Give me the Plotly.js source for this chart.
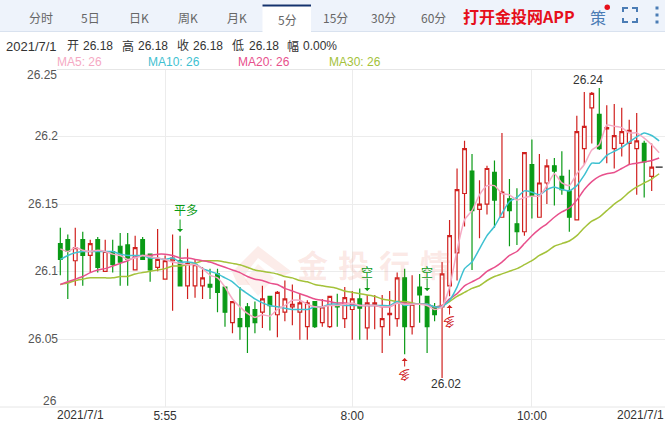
<!DOCTYPE html>
<html><head><meta charset="utf-8">
<script src="https://cdn.plot.ly/plotly-3.0.1.min.js"></script>
<style>html,body{margin:0;padding:0;background:#fff;overflow:hidden}#c{width:665px;height:421px}</style>
</head><body><div id="c"></div>
<script>
const opens=[26.122,26.125,26.109,26.125,26.113,26.125,26.101,26.116,26.120,26.121,
26.102,26.125,26.114,26.104,26.095,26.109,26.109,26.090,26.090,26.090,
26.091,26.099,26.089,26.062,26.065,26.074,26.072,26.070,26.082,26.068,
26.070,26.074,26.070,26.059,26.078,26.062,26.059,26.075,26.065,26.072,
26.080,26.058,26.076,26.059,26.068,26.065,26.096,26.059,26.089,26.082,
26.074,26.074,26.090,26.115,26.160,26.177,26.148,26.152,26.176,26.142,
26.156,26.137,26.131,26.182,26.142,26.168,26.181,26.173,26.162,26.140,
26.194,26.225,26.220,26.209,26.194,26.198,26.198,26.194,26.198,26.173];
const highs=[26.134,26.129,26.134,26.131,26.125,26.127,26.125,26.125,26.130,26.130,
26.128,26.127,26.114,26.133,26.113,26.129,26.128,26.118,26.110,26.104,
26.103,26.103,26.089,26.078,26.089,26.077,26.078,26.090,26.082,26.086,
26.094,26.091,26.084,26.079,26.078,26.080,26.082,26.084,26.089,26.086,
26.088,26.083,26.083,26.083,26.086,26.100,26.103,26.098,26.099,26.082,
26.077,26.108,26.140,26.179,26.200,26.190,26.170,26.181,26.185,26.206,
26.171,26.164,26.191,26.201,26.190,26.186,26.187,26.192,26.178,26.219,
26.237,26.237,26.240,26.227,26.228,26.225,26.216,26.221,26.200,26.198];
const lows=[26.098,26.080,26.090,26.090,26.100,26.100,26.101,26.100,26.090,26.090,
26.102,26.110,26.093,26.101,26.095,26.071,26.090,26.080,26.081,26.080,
26.080,26.070,26.059,26.054,26.049,26.039,26.054,26.058,26.056,26.051,
26.063,26.060,26.049,26.049,26.058,26.059,26.058,26.059,26.058,26.049,
26.049,26.049,26.057,26.039,26.052,26.059,26.038,26.053,26.062,26.039,
26.063,26.020,26.082,26.094,26.135,26.102,26.126,26.144,26.134,26.142,
26.120,26.121,26.128,26.141,26.142,26.152,26.151,26.159,26.131,26.140,
26.182,26.198,26.193,26.183,26.179,26.188,26.182,26.159,26.157,26.162];
const closes=[26.110,26.116,26.119,26.113,26.122,26.104,26.116,26.106,26.108,26.110,
26.119,26.110,26.102,26.110,26.109,26.111,26.090,26.107,26.106,26.096,
26.089,26.085,26.070,26.078,26.059,26.059,26.062,26.080,26.075,26.085,
26.080,26.076,26.077,26.077,26.059,26.074,26.082,26.074,26.081,26.080,
26.073,26.077,26.077,26.065,26.069,26.096,26.059,26.076,26.083,26.059,
26.068,26.099,26.128,26.163,26.194,26.147,26.152,26.179,26.155,26.161,
26.147,26.131,26.191,26.158,26.168,26.181,26.177,26.163,26.142,26.207,
26.211,26.236,26.194,26.210,26.204,26.207,26.208,26.200,26.184,26.180];
const lastPrice=26.18;
const ma5=[26.118,26.116,26.119,26.117,26.116,26.117,26.116,26.114,26.113,26.110,
26.111,26.113,26.112,26.111,26.110,26.108,26.107,26.106,26.106,26.103,
26.098,26.096,26.089,26.080,26.074,26.069,26.066,26.068,26.067,26.072,
26.075,26.079,26.079,26.076,26.074,26.074,26.075,26.075,26.076,26.077,
26.075,26.075,26.075,26.074,26.074,26.077,26.076,26.076,26.076,26.075,
26.072,26.074,26.089,26.117,26.140,26.147,26.159,26.166,26.166,26.160,
26.159,26.155,26.157,26.158,26.158,26.166,26.175,26.168,26.166,26.175,
26.182,26.193,26.197,26.212,26.211,26.210,26.206,26.206,26.202,26.197,26.191];
const ma10=[26.110,26.113,26.115,26.116,26.116,26.116,26.116,26.116,26.114,26.113,
26.113,26.113,26.111,26.111,26.110,26.111,26.108,26.108,26.107,26.103,
26.101,26.099,26.096,26.093,26.088,26.084,26.080,26.077,26.075,26.074,
26.073,26.072,26.072,26.072,26.074,26.074,26.076,26.076,26.075,26.075,
26.075,26.075,26.075,26.075,26.075,26.078,26.075,26.076,26.076,26.076,
26.074,26.074,26.079,26.089,26.103,26.108,26.118,26.128,26.135,26.145,
26.154,26.157,26.162,26.161,26.159,26.163,26.165,26.163,26.162,26.166,
26.174,26.183,26.183,26.189,26.192,26.195,26.199,26.203,26.206,26.204,26.200];
const ma20=[26.091,26.093,26.095,26.097,26.100,26.102,26.103,26.105,26.107,26.109,
26.112,26.113,26.113,26.114,26.114,26.113,26.111,26.111,26.110,26.109,
26.108,26.106,26.104,26.102,26.100,26.097,26.095,26.094,26.092,26.091,
26.088,26.086,26.084,26.082,26.080,26.079,26.078,26.077,26.077,26.076,
26.075,26.075,26.075,26.074,26.074,26.077,26.077,26.076,26.076,26.076,
26.074,26.075,26.080,26.084,26.090,26.093,26.096,26.101,26.104,26.108,
26.113,26.116,26.122,26.128,26.133,26.137,26.142,26.146,26.149,26.155,
26.163,26.169,26.173,26.175,26.176,26.179,26.182,26.183,26.184,26.185,26.187];
const ma30=[26.091,26.092,26.094,26.095,26.096,26.096,26.096,26.096,26.097,26.097,
26.099,26.100,26.101,26.102,26.103,26.105,26.105,26.106,26.107,26.109,
26.109,26.109,26.108,26.107,26.106,26.104,26.102,26.101,26.100,26.099,
26.097,26.096,26.094,26.093,26.091,26.090,26.089,26.088,26.086,26.085,
26.084,26.083,26.082,26.080,26.079,26.078,26.078,26.077,26.076,26.076,
26.074,26.075,26.078,26.082,26.085,26.088,26.090,26.094,26.097,26.099,
26.101,26.103,26.106,26.109,26.113,26.116,26.120,26.122,26.124,26.128,
26.134,26.139,26.142,26.147,26.152,26.156,26.161,26.165,26.168,26.171,26.175];
const yTickVals=[26.2036,26.152,26.1012,26.0496];
const yTickText=['26.2','26.15','26.1','26.05'];
const yTop=26.2541, yBottom=25.9984;
const xTickVals=[14,39,63];
const xTickText=['5:55','8:00','10:00'];
const dateLabel='2021/7/1';
const tabs=['分时','5日','日K','周K','月K','5分','15分','30分','60分'];
const tabCenters=[41,90,139,188,237,287,335,383,433];
const maLegend=['MA5: 26','MA10: 26','MA20: 26','MA30: 26'];
const maColors=['#f5a9c3','#3fc1d1','#e8508c','#a4c23a'];
const RED='#d0201e', GREEN='#0a9a16';
const W=665,H=421;
const FONT='"Liberation Sans","Noto Sans CJK SC",sans-serif';
const CJK='"Noto Sans CJK SC",sans-serif';
const px=x=>x/W, py=y=>1-y/H;

const idx=opens.map((_,i)=>i);
const idxAll=ma5.map((_,i)=>i);
const traces=[{type:'candlestick',x:idx,open:opens,high:highs,low:lows,close:closes,
  increasing:{line:{color:RED,width:1.2},fillcolor:'#ffffff'},
  decreasing:{line:{color:GREEN,width:1.2},fillcolor:GREEN},
  whiskerwidth:0,hoverinfo:'skip',showlegend:false}];
[ma30,ma20,ma10,ma5].forEach((m,k)=>{traces.push({type:'scatter',mode:'lines',x:idxAll,y:m,
  line:{color:maColors[3-k],width:1.5,shape:'spline',smoothing:0.5},hoverinfo:'skip',showlegend:false});});
traces.push({type:'scatter',mode:'markers',x:[80],y:[lastPrice],hoverinfo:'skip',showlegend:false,
  marker:{symbol:'line-ew',size:5,line:{color:'#222',width:1.2}}});

const ann=[];
function note(x,y,text,o={}){
  const dx=o.xanchor==='left'?-2:(o.xanchor==='right'?2:0);
  ann.push(Object.assign({xref:'paper',yref:'paper',x:px(x+dx),y:py(y),text:text,showarrow:false,
  xanchor:'center',yanchor:'middle',font:{family:FONT,size:12,color:'#333'}},o));}
tabs.forEach((t,i)=>note(tabCenters[i],i===5?19:17,t,{font:{family:CJK,size:12,color:'#666'}}));
note(463,16,'打开金投网APP',{xanchor:'left',font:{family:CJK,size:16,color:'#e60f1a',weight:700}});
note(598,17,'策',{font:{family:CJK,size:16,color:'#4a7cb5'}});
[['2021/7/1',6],['开',67],['26.18',83],['高',122],['26.18',138],['收',177],['26.18',193],['低',232],['26.18',249],['幅',287],['0.00%',303]]
 .forEach(p=>note(p[1],46,p[0],{xanchor:'left',font:{family:FONT,size:/^[\u4e00-\u9fff]/.test(p[0])?12:(p[0].includes('/')?13:12),color:'#333'}}));
[57,148,238,329].forEach((x,i)=>note(x,62,maLegend[i],{xanchor:'left',font:{family:FONT,size:12,color:maColors[i]}}));
note(57,75,'26.25',{xanchor:'right',font:{family:FONT,size:12,color:'#555'}});
note(57,401,'26',{xanchor:'right',font:{family:FONT,size:12,color:'#555'}});
note(57,414.5,dateLabel,{xanchor:'left'});
note(664,414.5,dateLabel,{xanchor:'right'});
['金','投','行','情'].forEach((c,i)=>note(312+41*i,263,c,{font:{family:CJK,size:31,weight:700,color:'rgba(232,120,100,0.16)'}}));
ann.push({xref:'x',yref:'y',x:72,y:26.24,text:'26.24',showarrow:false,xshift:-11,yshift:8,font:{family:FONT,size:12,color:'#333'}});
ann.push({xref:'x',yref:'y',x:51,y:26.02,text:'26.02',showarrow:false,xshift:4,yshift:-6,font:{family:FONT,size:12,color:'#333'}});
function sig(i,v,text,up,color,dx){
  ann.push({xref:'x',yref:'y',x:i,y:v,text:text,showarrow:false,xshift:dx,textangle:up?180:0,font:{family:CJK,size:12,color:color}});
}
function arrow(i,v,up,color,len){
  ann.push({xref:'x',yref:'y',x:i,y:v,ax:0,ay:up?len:-len,showarrow:true,arrowhead:1,arrowsize:1,arrowwidth:1,arrowcolor:color,text:'',axref:'pixel',ayref:'pixel'});
}
sig(16,26.1475,'平多',false,GREEN,6);
arrow(16,26.1308,false,GREEN,14);
sig(41,26.1012,'空',false,GREEN,0);
arrow(41,26.0860,false,GREEN,14);
sig(49,26.1012,'空',false,GREEN,0);
arrow(49,26.0860,false,GREEN,14);
sig(46,26.0215,'多',true,RED,0);
arrow(46,26.0352,true,RED,10);
sig(52,26.0617,'多',true,RED,0);
arrow(52,26.0754,true,RED,11);

const shapes=[
 {type:'rect',xref:'paper',yref:'paper',x0:0,x1:1,y0:py(31.5),y1:1,fillcolor:'#eef3fb',line:{width:0},layer:'below'},
 {type:'line',xref:'paper',yref:'paper',x0:0,x1:1,y0:py(31.5),y1:py(31.5),line:{color:'#d9e2ef',width:1},layer:'below'},
 {type:'rect',xref:'paper',yref:'paper',x0:px(262.5),x1:px(311),y0:py(32),y1:py(4.5),fillcolor:'#fff',line:{width:0},layer:'below'},
 {type:'rect',xref:'paper',yref:'paper',x0:px(262.5),x1:px(311),y0:py(6.5),y1:py(4.5),fillcolor:'#14336e',line:{width:0},layer:'below'},
 {type:'circle',xref:'paper',yref:'paper',x0:px(604.5),x1:px(610),y0:py(10),y1:py(4.5),fillcolor:'#e60f1a',line:{width:0}},
 {type:'line',xref:'paper',yref:'paper',x0:0,x1:1,y0:py(407),y1:py(407),line:{color:'#e6e6e6',width:1},layer:'below'},
 {type:'line',xref:'paper',yref:'paper',x0:px(57),x1:1,y0:py(69.5),y1:py(69.5),line:{color:'#e6e6e6',width:1},layer:'below'}
];
[[623,12,623,8,628,8],[632,8,637,8,637,12],[637,18,637,22,632,22],[628,22,623,22,623,18]].forEach(c=>{
  shapes.push({type:'path',xref:'paper',yref:'paper',path:`M${px(c[0])},${py(c[1])} L${px(c[2])},${py(c[3])} L${px(c[4])},${py(c[5])}`,line:{color:'#4a7cb5',width:2}});
});
[8,15,22].forEach(y=>shapes.push({type:'rect',xref:'paper',yref:'paper',x0:px(655.5),x1:px(658.5),y0:py(y+1.5),y1:py(y-1.5),fillcolor:'#4a7cb5',line:{width:0}}));
const logo=(pts,fill)=>({type:'path',xref:'paper',yref:'paper',layer:'below',fillcolor:fill,line:{width:0},
  path:pts.map((p,i)=>(i?'L':'M')+px(p[0])+','+py(p[1])).join(' ')+' Z'});
shapes.push(logo([[258,246],[292,272],[283,276],[258,258],[244,276],[250,285],[238,285],[232,272]],'rgba(232,120,100,0.14)'));
shapes.push(logo([[258,264],[274,278],[258,296],[245,280]],'rgba(232,120,100,0.10)'));

const layout={width:W,height:H,margin:{l:0,r:0,t:0,b:0},paper_bgcolor:'#fff',plot_bgcolor:'rgba(0,0,0,0)',showlegend:false,
 xaxis:{domain:[px(57),1],range:[-0.441,80.78],type:'linear',tickmode:'array',tickvals:xTickVals,ticktext:xTickText,
  showgrid:true,gridcolor:'#ececec',gridwidth:1,zeroline:false,showline:false,ticks:'',rangeslider:{visible:false},
  tickfont:{family:FONT,size:12,color:'#333'}},
 yaxis:{domain:[py(406.5),py(69.5)],range:[yBottom,yTop],tickmode:'array',tickvals:yTickVals,ticktext:yTickText,
  showgrid:true,gridcolor:'#ececec',gridwidth:1,zeroline:false,showline:false,ticks:'',ticklabelstandoff:-2,
  tickfont:{family:FONT,size:12,color:'#555'}},
 annotations:ann,shapes:shapes};
Plotly.newPlot('c',traces,layout,{displayModeBar:false,staticPlot:true});
</script></body></html>
